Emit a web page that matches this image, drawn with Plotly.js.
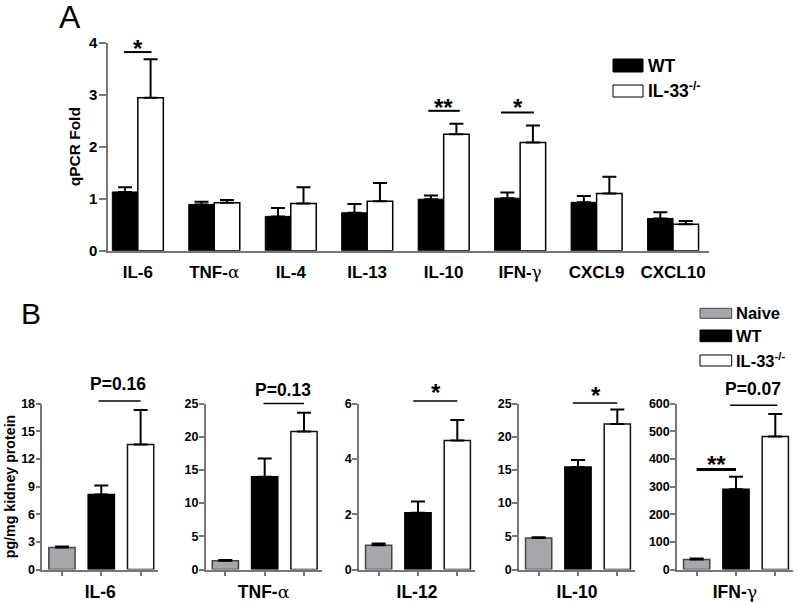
<!DOCTYPE html>
<html>
<head>
<meta charset="utf-8">
<script src="https://cdn.plot.ly/plotly-3.0.1.min.js"></script>
<style>html,body{margin:0;padding:0;background:#fff;}#chart{width:798px;height:602px;}</style>
</head>
<body>
<div id="chart"></div>
<script>
// ---------- Panel A data (qPCR fold) ----------
const catsA   = ["IL-6", "TNF-α", "IL-4", "IL-13", "IL-10", "IFN-γ", "CXCL9", "CXCL10"];
const wtA     = [1.13, 0.89, 0.66, 0.73, 0.99, 1.01, 0.93, 0.62];
const wtErrA  = [0.09, 0.05, 0.16, 0.17, 0.07, 0.11, 0.12, 0.12];
const koA     = [2.94, 0.92, 0.91, 0.95, 2.24, 2.08, 1.10, 0.51];
const koErrA  = [0.74, 0.055, 0.31, 0.35, 0.20, 0.33, 0.32, 0.06];
const yTicksA = [0, 1, 2, 3, 4];

// ---------- Panel B data (pg/mg kidney protein) ----------
const groupsB   = ["Naive", "WT", "IL-33<sup>-/-</sup>"];
const cytB      = ["IL-6", "TNF-α", "IL-12", "IL-10", "IFN-γ"];
const naiveB    = [2.39, 1.30, 0.88, 4.75, 36];
const naiveErrB = [0.10, 0.12, 0.06, 0.12, 4];
const wtB       = [8.13, 13.95, 2.05, 15.45, 290];
const wtErrB    = [0.97, 2.75, 0.41, 1.05, 45];
const koB       = [13.55, 20.8, 4.66, 21.9, 481];
const koErrB    = [3.75, 2.8, 0.74, 2.2, 81];
const yMaxB     = [18, 25, 6, 25, 600];
const yStepB    = [3, 5, 2, 5, 100];

// ---------- significance marks (annotation positions, in axis units) ----------
const sigA = [
  {x0: -0.18, x1: 0.18, y: 3.82, text: "*",  tx: 0,    ty: 3.88, w: 2},
  {x0: 3.80,  x1: 4.21, y: 2.69, text: "**", tx: 4,    ty: 2.76, w: 2},
  {x0: 4.75,  x1: 5.18, y: 2.66, text: "*",  tx: 4.97, ty: 2.76, w: 2}
];
const sigB = [
  [{x0: 0.93, x1: 2.0, y: 18.28, text: "P=0.16", tx: 1.42, ty: 20.1, w: 1.5}],
  [{x0: 0.97, x1: 2.0, y: 25.0,  text: "P=0.13", tx: 1.47, ty: 27.1, w: 1.5}],
  [{x0: 0.88, x1: 2.0, y: 6.09,  text: "*",      tx: 1.45, ty: 6.38, w: 1.5}],
  [{x0: 0.87, x1: 2.0, y: 25.06, text: "*",      tx: 1.46, ty: 26.2, w: 1.5}],
  [{x0: 0.0,  x1: 1.0, y: 361,   text: "**",     tx: 0.5,  ty: 378,  w: 3},
   {x0: 0.85, x1: 2.05, y: 594,  text: "P=0.07", tx: 1.43, ty: 651,  w: 1.5}]
];

// ---------- styling ----------
const FONT = "Liberation Sans, Arial, sans-serif";
const AXC = "#777";
const NAIVE_C = "#a6a6ab";
const greek = s => s.replace(/([αγ])/g, '<span style="font-family:DejaVu Serif;font-weight:normal">$1</span>');
const bold = (size) => ({family: FONT, size: size, color: "#000", weight: "bold"});

const traces = [];
const annotations = [];
const shapes = [];
const layout = {
  width: 798, height: 602,
  margin: {l: 0, r: 0, t: 0, b: 0},
  paper_bgcolor: "#fff", plot_bgcolor: "#fff",
  showlegend: false,
  barmode: "group", bargap: 0.333, bargroupgap: 0,
  font: {family: FONT, color: "#000"}
};

function sigMark(s, xa, ya, yMax) {
  shapes.push({type: "line", xref: xa, yref: ya + " domain", x0: s.x0, x1: s.x1,
    y0: s.y / yMax, y1: s.y / yMax, line: {color: "#000", width: s.w}});
  annotations.push({xref: xa, yref: ya + " domain", x: s.tx, y: s.ty / yMax, text: s.text,
    showarrow: false, yanchor: "middle",
    font: bold(s.text.startsWith("P") ? 17.5 : 24)});
}

// ---- Panel A ----
const idxA = catsA.map((_, i) => i);
traces.push({
  type: "bar", name: "WT", x: idxA, y: wtA, xaxis: "x", yaxis: "y",
  text: catsA, textposition: "none", hovertemplate: "%{text}: %{y}<extra>WT</extra>",
  marker: {color: "#000", line: {color: "#000", width: 1}},
  error_y: {type: "data", array: wtErrA, arrayminus: wtErrA.map(() => 0), symmetric: false,
            color: "#000", thickness: 2, width: 7}
});
traces.push({
  type: "bar", name: "IL-33-/-", x: idxA, y: koA, xaxis: "x", yaxis: "y",
  text: catsA, textposition: "none", hovertemplate: "%{text}: %{y}<extra>IL-33-/-</extra>",
  marker: {color: "#fff", line: {color: "#000", width: 1.5}},
  error_y: {type: "data", array: koErrA, arrayminus: koErrA.map(() => 0), symmetric: false,
            color: "#000", thickness: 2, width: 7}
});
layout.xaxis = {
  domain: [108/798, 709/798], range: [-0.39, 7.47], anchor: "y",
  tickmode: "array", tickvals: idxA, ticktext: catsA.map(greek),
  ticks: "", showline: true, linecolor: AXC, linewidth: 1.5, ticklabelstandoff: 5,
  showgrid: false, zeroline: false, tickfont: bold(17), fixedrange: true
};
layout.yaxis = {
  domain: [1 - 250.7/602, 1 - 42.7/602], range: [0, 4], anchor: "x",
  tickmode: "array", tickvals: yTicksA,
  ticks: "outside", ticklen: 7, tickwidth: 1.5, tickcolor: AXC,
  showline: true, linecolor: AXC, linewidth: 1.5,
  showgrid: false, zeroline: false, tickfont: bold(15), ticklabelstandoff: -1,
  title: {text: "qPCR Fold", font: bold(15.5), standoff: 4}, fixedrange: true
};
sigA.forEach(s => sigMark(s, "x", "y", 4));

// ---- Panel B ----
const xStartB = [42.3, 205.7, 359, 519, 677];
const BW = 116;
const idxB = groupsB.map((_, i) => i);
cytB.forEach((c, i) => {
  const n = i + 2;
  const xa = "x" + n, ya = "y" + n;
  traces.push({
    type: "bar", name: c, x: idxB, y: [naiveB[i], wtB[i], koB[i]], xaxis: xa, yaxis: ya,
    text: groupsB, hovertemplate: "%{text}: %{y}<extra>" + c + "</extra>", textposition: "none",
    marker: {color: [NAIVE_C, "#000", "#fff"], line: {color: ["#444", "#000", "#111"], width: 1.5}},
    error_y: {type: "data", array: [naiveErrB[i], wtErrB[i], koErrB[i]], arrayminus: [0, 0, 0],
              symmetric: false, color: "#000", thickness: 2, width: 7}
  });
  layout["xaxis" + n] = {
    domain: [xStartB[i]/798, (xStartB[i] + BW)/798], range: [-0.5, 2.45], anchor: ya,
    tickmode: "array", tickvals: idxB, showticklabels: false,
    ticks: "outside", ticklen: 5, tickwidth: 1.5, tickcolor: AXC,
    showline: true, linecolor: AXC, linewidth: 1.5, showgrid: false, zeroline: false,
    title: {text: greek(c), font: bold(17.5), standoff: 12}, fixedrange: true
  };
  const tv = [];
  for (let v = 0; v <= yMaxB[i] + 1e-9; v += yStepB[i]) tv.push(v);
  layout["yaxis" + n] = {
    domain: [1 - 569.5/602, 1 - 403.5/602], range: [0, yMaxB[i]], anchor: xa,
    tickmode: "array", tickvals: tv,
    ticks: "outside", ticklen: 5, tickwidth: 1.5, tickcolor: AXC,
    showline: true, linecolor: AXC, linewidth: 1.5, showgrid: false, zeroline: false,
    tickfont: bold(12.5), ticklabelstandoff: -2, fixedrange: true
  };
  if (i === 0) layout["yaxis" + n].title = {text: "pg/mg kidney protein", font: bold(14.2), standoff: 2};
  sigB[i].forEach(s => sigMark(s, xa, ya, yMaxB[i]));
});

// ---- panel letters ----
annotations.push({xref: "paper", yref: "paper", x: 57/798, y: 1 - 17/602, text: "A", showarrow: false,
  xanchor: "left", yanchor: "middle", font: {family: FONT, size: 32, color: "#000"}});
annotations.push({xref: "paper", yref: "paper", x: 19/798, y: 1 - 313/602, text: "B", showarrow: false,
  xanchor: "left", yanchor: "middle", font: {family: FONT, size: 30, color: "#000"}});

// ---- legends (swatches + labels) ----
function legendItem(x0, x1, yTop, yBot, fill, line, label, textX, textY, size) {
  shapes.push({type: "rect", xref: "paper", yref: "paper",
    x0: x0/798, x1: x1/798, y0: 1 - yBot/602, y1: 1 - yTop/602,
    fillcolor: fill, line: {color: line, width: 1}});
  annotations.push({xref: "paper", yref: "paper", x: textX/798, y: 1 - textY/602, text: label,
    showarrow: false, xanchor: "left", yanchor: "middle", font: bold(size)});
}
legendItem(613, 643, 59, 72, "#000", "#000", "WT", 646, 66, 17.5);
legendItem(613, 643, 85, 97, "#fff", "#000", "IL-33<sup>-/-</sup>", 646, 90, 17.5);
legendItem(700, 731.7, 308.3, 318.3, NAIVE_C, "#444", "Naive", 734, 313, 16.5);
legendItem(700, 731.7, 330, 341.7, "#000", "#000", "WT", 734, 336, 16.5);
legendItem(700, 731.7, 355, 366, "#fff", "#000", "IL-33<sup>-/-</sup>", 734, 360, 16.5);

layout.annotations = annotations;
layout.shapes = shapes;

Plotly.newPlot("chart", traces, layout, {displayModeBar: false});
</script>
</body>
</html>
